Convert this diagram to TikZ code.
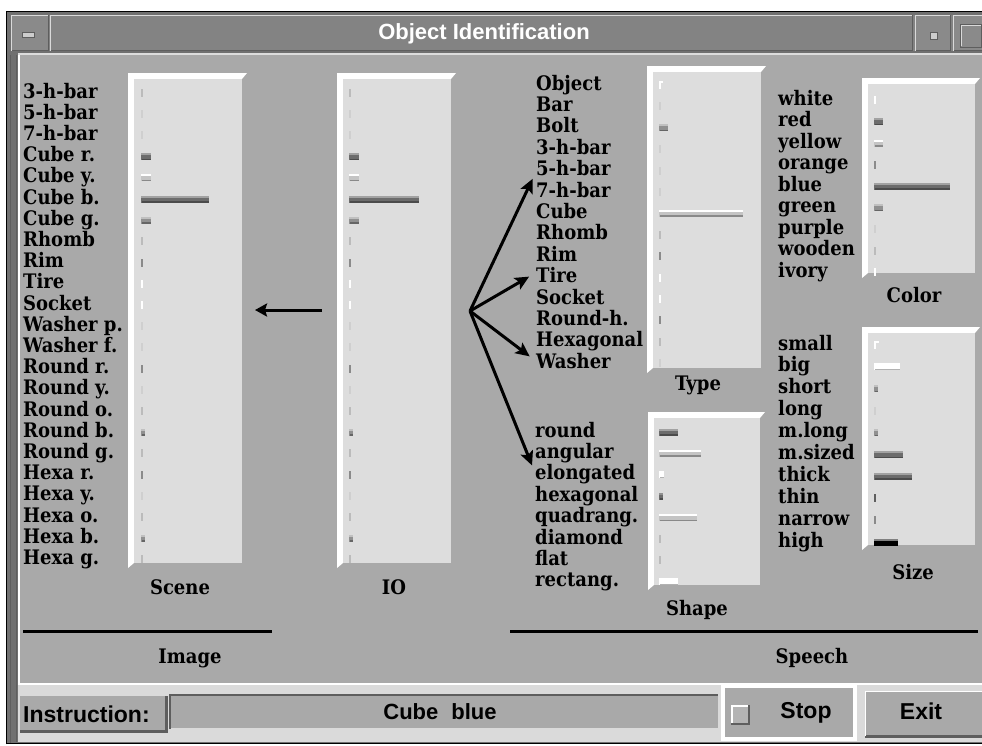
\documentclass[tikz,border=0pt]{standalone}
\usepackage{fontspec}
\usetikzlibrary{arrows.meta}
\newfontfamily\labf{DejaVu Serif}[FakeStretch=0.9]
\newfontfamily\uif{Liberation Sans}
\definecolor{bg}{HTML}{A9A9A9}
\definecolor{face}{HTML}{DDDDDD}
\definecolor{frame}{HTML}{707070}
\definecolor{tbar}{HTML}{838383}
\definecolor{tbtn}{HTML}{8A8A8A}
\definecolor{light}{HTML}{DADADA}
\definecolor{tkF}{HTML}{CFCFCF}
\definecolor{tkL}{HTML}{BBBBBB}
\definecolor{tkD}{HTML}{8A8A8A}
\definecolor{barD}{HTML}{6C6C6C}
\definecolor{barDh}{HTML}{A2A2A2}
\definecolor{barL}{HTML}{C4C4C4}
\definecolor{barM}{HTML}{909090}
\definecolor{barMh}{HTML}{C0C0C0}
\definecolor{shd}{HTML}{5E5E5E}
\definecolor{chk}{HTML}{B4B4B4}
\newcommand\panelbox[4]{%
  \fill[white] (#1,#2) -- (#3,#2) -- (#3-5,#2+6) -- (#1+6,#2+6) -- (#1+6,#4-5) -- (#1,#4) -- cycle;
  \fill[face] (#1+6,#2+6) rectangle (#3-5,#4-5);}
\newcommand\tk[3]{\fill[#3] (#1,#2-4) rectangle ++(2,8);}
\newcommand\bk[5]{%
  \fill[#4] (#1,#2-3.5) rectangle ++(#3,7);
  \fill[#5] (#1,#2-3.5) rectangle ++(#3,2);
  \fill[#4!70!black] (#1+1,#2+2) rectangle ++(#3-1,1.5);}
\tikzset{
  lbl/.style={font=\labf\bfseries\fontsize{20}{21}\selectfont, anchor=west, inner sep=0pt, text height=14pt, text depth=4pt},
  hdr/.style={font=\labf\bfseries\fontsize{20}{21}\selectfont, inner sep=0pt},
  ui/.style={font=\uif\bfseries\fontsize{23}{24}\selectfont, inner sep=0pt},
  fanarrow/.style={line width=3pt, -{Stealth[length=14pt,width=13pt,inset=3pt]}, shorten >=8pt},
  sepline/.style={line width=3pt, black},
}
\begin{document}
\begin{tikzpicture}[x=1pt,y=-1pt]
\useasboundingbox (0,0) rectangle (982,745);
\fill[white] (0,0) rectangle (982,745);
% window frame
\fill[frame] (6,11) rectangle (982,744);
\draw[black, line width=1.5pt] (6.5,744) -- (6.5,11.5) -- (982,11.5);
\draw[black, line width=1pt] (6,743.5) -- (982,743.5);
\draw[shd, line width=1.5pt] (10.5,55) -- (10.5,743);
\draw[shd, line width=1.5pt] (16.5,55) -- (16.5,742);
% title bar
\fill[tbar] (11,15) rectangle (982,51);
\fill[tbtn] (11,15) rectangle (49,51);
\draw[white!70!tbar, line width=1.5pt] (11.5,51) -- (11.5,15.5) -- (49,15.5);
\draw[shd, line width=1.5pt] (12,50.5) -- (48.5,50.5) -- (48.5,15);
\draw[white!70!tbar, line width=1.5pt] (50.5,51) -- (50.5,15.5) -- (913,15.5);
\draw[shd, line width=1.5pt] (51,50.5) -- (912.5,50.5) -- (912.5,15);
\fill[tbtn] (915,15) rectangle (951,51);
\draw[white!70!tbar, line width=1.5pt] (915.5,51) -- (915.5,15.5) -- (951,15.5);
\draw[shd, line width=1.5pt] (916,50.5) -- (950.5,50.5) -- (950.5,15);
\fill[tbtn] (953,15) rectangle (982,51);
\draw[white!70!tbar, line width=1.5pt] (953.5,51) -- (953.5,15.5) -- (982,15.5);
\draw[shd, line width=1.5pt] (954,50.5) -- (982,50.5);
\draw[shd, fill=white!60!tbar, line width=1pt] (22,32) rectangle (34,37);
\draw[shd, fill=white!60!tbar, line width=1pt] (930,32) rectangle (937,39);
\draw[shd, fill=tbtn, line width=1pt] (960,24) rectangle (981,47);
\draw[white!70!tbar, line width=1pt] (961,46) -- (961,25) -- (981,25);
\node[font=\uif\bfseries\fontsize{22}{24}\selectfont, text=white, inner sep=0pt] (title) at (484,34) {Object Identification};
% content area
\fill[bg] (18,53) rectangle (982,683);
\draw[white, line width=2pt] (19,53) -- (19,683);
\draw[white!60!bg, line width=2pt] (18,53.5) -- (982,53.5);
% panels
\panelbox{128}{73}{247}{568}
\panelbox{337}{73}{456}{568}
\panelbox{647}{66}{766}{373}
\panelbox{862}{78}{980}{278}
\panelbox{862}{327}{980}{550}
\panelbox{648}{412}{765}{590}
% scene / IO bars
\foreach \x/\w in {141/68, 349/70}{
  \tk{\x}{93}{tkL}
  \tk{\x}{93+21.2}{tkF}
  \tk{\x}{93+21.2*2}{tkF}
  \bk{\x}{93+21.2*3}{10}{barD}{barDh}
  \bk{\x}{93+21.2*4}{10}{barL}{white}
  \bk{\x}{93+21.2*5}{\w}{barD}{barDh}
  \bk{\x}{93+21.2*6}{10}{barM}{barMh}
  \tk{\x}{93+21.2*7}{tkL}
  \tk{\x}{93+21.2*8}{tkD}
  \tk{\x}{93+21.2*9}{white}
  \tk{\x}{93+21.2*10}{white}
  \tk{\x}{93+21.2*11}{tkF}
  \tk{\x}{93+21.2*12}{tkF}
  \tk{\x}{93+21.2*13}{tkD}
  \tk{\x}{93+21.2*14}{tkF}
  \tk{\x}{93+21.2*15}{tkL}
  \bk{\x}{93+21.2*16}{4}{barM}{barMh}
  \tk{\x}{93+21.2*17}{tkL}
  \tk{\x}{93+21.2*18}{tkD}
  \tk{\x}{93+21.2*19}{tkF}
  \tk{\x}{93+21.2*20}{tkL}
  \bk{\x}{93+21.2*21}{4}{barM}{barMh}
  \tk{\x}{93+21.2*22}{tkL}
}
% type bars
\tk{659}{85}{white}\fill[white] (659,81) rectangle ++(4,2);
\tk{659}{85+21.4}{tkF}
\bk{659}{85+21.4*2}{9}{barM}{barMh}
\tk{659}{85+21.4*3}{tkF}
\tk{659}{85+21.4*4}{tkF}
\tk{659}{85+21.4*5}{tkF}
\bk{659}{85+21.4*6}{84}{barL}{white}
\tk{659}{85+21.4*7}{tkL}
\tk{659}{85+21.4*8}{tkD}
\tk{659}{85+21.4*9}{white}
\tk{659}{85+21.4*10}{white}
\tk{659}{85+21.4*11}{tkD}
\tk{659}{85+21.4*12}{tkL}
\tk{659}{85+21.4*13}{tkF}
% color bars
\tk{874}{100}{white}
\bk{874}{100+21.5}{9}{barD}{barDh}
\bk{874}{100+21.5*2}{9}{barL}{white}
\tk{874}{100+21.5*3}{tkD}
\bk{874}{100+21.5*4}{76}{barD}{barDh}
\bk{874}{100+21.5*5}{9}{barM}{barMh}
\tk{874}{100+21.5*6}{tkF}
\tk{874}{100+21.5*7}{tkL}
\tk{874}{100+21.5*8}{white}
% size bars
\tk{874}{345}{white}\fill[white] (874,341) rectangle ++(5,2);
\bk{874}{345+21.9}{26}{white}{white}
\bk{874}{345+21.9*2}{4}{barM}{barMh}
\tk{874}{345+21.9*3}{tkF}
\bk{874}{345+21.9*4}{4}{barM}{barMh}
\bk{874}{345+21.9*5}{29}{barD}{barDh}
\bk{874}{345+21.9*6}{38}{barD}{barDh}
\tk{874}{345+21.9*7}{shd}
\tk{874}{345+21.9*8}{tkD}
\bk{874}{345+21.9*9}{24}{black}{gray}
% shape bars
\bk{659}{432}{19}{barD}{barDh}
\bk{659}{432+21.4}{42}{barL}{white}
\bk{659}{432+21.4*2}{5}{white}{white}
\bk{659}{432+21.4*3}{4}{barD}{barM}
\bk{659}{432+21.4*4}{38}{barL}{white}
\tk{659}{432+21.4*5}{tkL}
\tk{659}{432+21.4*6}{tkL}
\bk{659}{432+21.4*7}{19}{white}{white}
% labels
\foreach \t [count=\i from 0] in {3-h-bar, 5-h-bar, 7-h-bar, Cube r., Cube y., Cube b., Cube g., Rhomb, Rim, Tire, Socket, Washer p., Washer f., Round r., Round y., Round o., Round b., Round g., Hexa r., Hexa y., Hexa o., Hexa b., Hexa g.}
  \node[lbl] (sc\i) at (23,93+21.2*\i) {\t};
\foreach \t [count=\i from 0] in {Object, Bar, Bolt, 3-h-bar, 5-h-bar, 7-h-bar, Cube, Rhomb, Rim, Tire, Socket, Round-h., Hexagonal, Washer}
  \node[lbl] (ty\i) at (536,85+21.4*\i) {\t};
\foreach \t [count=\i from 0] in {white, red, yellow, orange, blue, green, purple, wooden, ivory}
  \node[lbl] (co\i) at (778,100+21.5*\i) {\t};
\foreach \t [count=\i from 0] in {small, big, short, long, m.long, m.sized, thick, thin, narrow, high}
  \node[lbl] (si\i) at (778,345+21.9*\i) {\t};
\foreach \t [count=\i from 0] in {round, angular, elongated, hexagonal, quadrang., diamond, flat, rectang.}
  \node[lbl] (sh\i) at (535,432+21.4*\i) {\t};
% headers
\node[hdr] (hScene) at (180,587) {Scene};
\node[hdr] (hIO) at (394,587) {IO};
\node[hdr] (hType) at (698,385) {Type};
\node[hdr] (hColor) at (914,295) {Color};
\node[hdr] (hSize) at (913,572) {Size};
\node[hdr] (hShape) at (697,610) {Shape};
\node[hdr] (hImage) at (190,658) {Image};
\node[hdr] (hSpeech) at (812,658) {Speech};
\draw[sepline] (23,631) -- (272,631);
\draw[sepline] (510,631) -- (978,631);
% arrows
\coordinate (ioArr) at (322,310);
\coordinate (scArr) at (255,310);
\draw[line width=3pt, -{Stealth[length=12pt,width=13pt,inset=2pt]}] (ioArr) -- (scArr);
\coordinate (fan) at (470,311);
\draw[fanarrow] (fan) -- ([yshift=-1pt]ty4.west);
\draw[fanarrow] (fan) -- ([yshift=5pt]ty9.west);
\draw[fanarrow] (fan) -- ([yshift=2pt]ty13.west);
\draw[fanarrow] (fan) -- ([yshift=2pt]sh2.west);
% bottom bar
\fill[light] (18,683) rectangle (982,742);
\fill[white] (18,683) rectangle (982,685);
\fill[shd] (20,696) rectangle (168,733);
\fill[bg] (20,696) rectangle (165,730);
\node[ui, anchor=west] (instr) at (23,714) {Instruction:};
\fill[bg] (170,694) rectangle (718,728);
\draw[shd, line width=2.5pt] (170,729) -- (170,695) -- (718,695);
\node[ui, font=\uif\bfseries\fontsize{22}{24}\selectfont] (cmd) at (440,712) {Cube\hspace{13pt}blue};
\fill[white] (721,685) rectangle (857,741);
\fill[bg] (725,688) rectangle (853,737);
\fill[shd] (731,705) rectangle (750,725);
\fill[white] (731,705) rectangle (748,723);
\fill[chk] (733,707) rectangle (748,723);
\node[ui] (stop) at (806,713) {Stop};
\fill[shd] (865,691) rectangle (982,738);
\fill[bg] (865,691) rectangle (982,735);
\draw[white, line width=1.5pt] (865.5,736) -- (865.5,691.5) -- (982,691.5);
\node[ui] (exit) at (921,711) {Exit};
\end{tikzpicture}
\end{document}
